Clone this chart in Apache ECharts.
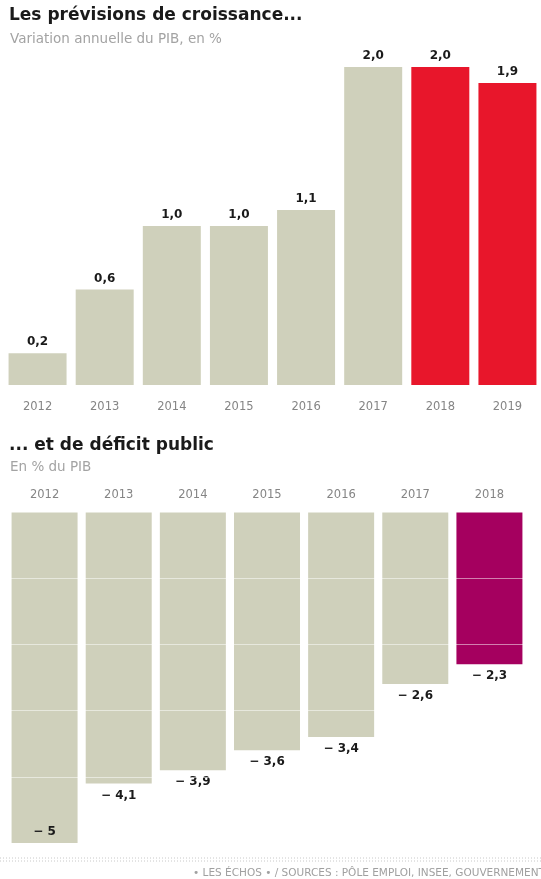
<!DOCTYPE html>
<html><head><meta charset="utf-8">
<script src="https://cdn.jsdelivr.net/npm/echarts@6/dist/echarts.min.js"></script>
<style>html,body{margin:0;padding:0;background:#fff;}#c{width:541px;height:879px;}</style>
</head><body><div id="c"></div>
<script>
const growthYears = ['2012','2013','2014','2015','2016','2017','2018','2019'];
const growthValues = [0.2, 0.6, 1.0, 1.0, 1.1, 2.0, 2.0, 1.9];
const growthForecast = [false, false, false, false, false, false, true, true];
const deficitYears = ['2012','2013','2014','2015','2016','2017','2018'];
const deficitValues = [-5, -4.1, -3.9, -3.6, -3.4, -2.6, -2.3];
const deficitForecast = [false, false, false, false, false, false, true];
const deficitTicks = [0, -1, -2, -3, -4, -5];

const BEIGE = '#cfd0bb', RED = '#e8162b', PURPLE = '#a5005f';
const FONT = 'DejaVu Sans';
const chart = echarts.init(document.getElementById('c'));
chart.setOption({
  backgroundColor: '#fff',
  animation: false,
  title: [
    {text: 'Les prévisions de croissance...', left: 9, top: 7, padding: 0, textStyle: {fontFamily: FONT, fontWeight: 'bold', fontSize: 17, color: '#1a1a1a'}},
    {text: 'Variation annuelle du PIB, en %', left: 10, top: 32, padding: 0, textStyle: {fontFamily: FONT, fontWeight: 'normal', fontSize: 13.5, color: '#a3a3a3'}},
    {text: '... et de déficit public', left: 9, top: 437, padding: 0, textStyle: {fontFamily: FONT, fontWeight: 'bold', fontSize: 17, color: '#1a1a1a'}},
    {text: 'En % du PIB', left: 10, top: 460, padding: 0, textStyle: {fontFamily: FONT, fontWeight: 'normal', fontSize: 13.5, color: '#a3a3a3'}}
  ],
  grid: [
    {left: 4, width: 543, top: 67, height: 318},
    {left: 7.5, width: 519, top: 512, height: 331}
  ],
  xAxis: [
    {gridIndex: 0, type: 'category', data: growthYears, position: 'bottom',
     axisLine: {show: false}, axisTick: {show: false},
     axisLabel: {margin: 16, fontFamily: FONT, fontSize: 11.5, color: '#858585'}},
    {gridIndex: 1, type: 'category', data: deficitYears, position: 'top',
     axisLine: {show: false}, axisTick: {show: false},
     axisLabel: {margin: 11, fontFamily: FONT, fontSize: 11.5, color: '#858585'}}
  ],
  yAxis: [
    {gridIndex: 0, type: 'value', min: 0, max: 2, show: false, splitLine: {show: false}},
    {gridIndex: 1, type: 'value', min: deficitTicks[deficitTicks.length-1], max: deficitTicks[0], interval: 1,
     z: 5, axisLine: {show: false}, axisTick: {show: false}, axisLabel: {show: false},
     splitLine: {show: true, lineStyle: {color: 'rgba(255,255,255,0.5)', width: 1}}}
  ],
  series: [
    {type: 'bar', xAxisIndex: 0, yAxisIndex: 0, barWidth: 58,
     data: growthValues.map((v, i) => ({value: v, itemStyle: {color: growthForecast[i] ? RED : BEIGE}})),
     label: {show: true, position: 'top', distance: 5, fontFamily: FONT, fontWeight: 'bold', fontSize: 12, color: '#1a1a1a',
       formatter: p => p.value.toFixed(1).replace('.', ',')}},
    {type: 'bar', xAxisIndex: 1, yAxisIndex: 1, barWidth: 66,
     data: deficitValues.map((v, i) => {
       const d = {value: v, itemStyle: {color: deficitForecast[i] ? PURPLE : BEIGE}};
       if (i === 0) d.label = {position: 'insideBottom', distance: 5};
       return d;
     }),
     label: {show: true, position: 'bottom', distance: 6, fontFamily: FONT, fontWeight: 'bold', fontSize: 12, color: '#1a1a1a',
       formatter: p => '− ' + String(Math.abs(p.value)).replace('.', ',')}}
  ],
  graphic: [
    {type: 'line', shape: {x1: 0, y1: 858, x2: 541, y2: 858}, style: {stroke: '#c8c8c8', lineWidth: 1, lineDash: [1, 2]}},
    {type: 'line', shape: {x1: 0, y1: 861, x2: 541, y2: 861}, style: {stroke: '#c8c8c8', lineWidth: 1, lineDash: [1, 2]}},
    {type: 'text', left: 193, top: 868, style: {text: '• LES ÉCHOS • / SOURCES : PÔLE EMPLOI, INSEE, GOUVERNEMENT', fontFamily: FONT, fontSize: 10.5, fill: '#a0a0a0'}}
  ]
});
</script></body></html>
